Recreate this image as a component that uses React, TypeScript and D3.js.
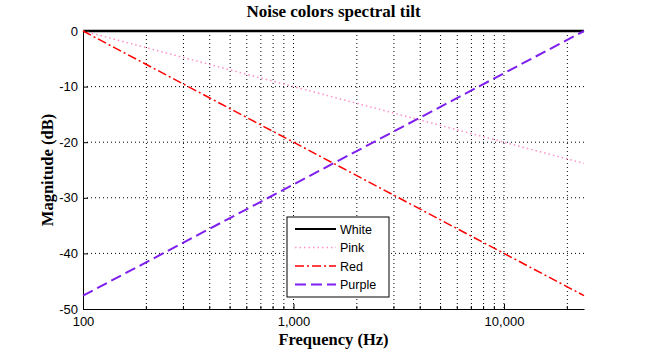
import React, { useEffect, useRef } from 'react';
import * as d3 from 'd3';

// frequency points (Hz)
const freqs = [100, 1000, 10000, 24000];
const white = [0, 0, 0, 0];
const pink = [0, -10, -20, -23.8];
const red = [0, -20, -40, -47.6];
const purple = [-47.6, -27.6, -7.6, 0];

const yTicks = [0, -10, -20, -30, -40, -50];
const xMajor = [100, 1000, 10000];
const xMinor = [200, 300, 400, 500, 600, 700, 800, 900,
  2000, 3000, 4000, 5000, 6000, 7000, 8000, 9000, 20000];

const seriesNames = ['White', 'Pink', 'Red', 'Purple'];

export default function App() {
  const svgRef = useRef<SVGSVGElement>(null);

  useEffect(() => {
    const W = 645, H = 351;
    const margin = { top: 31, right: 61, bottom: 42, left: 83 };
    const width = W - margin.left - margin.right;
    const height = H - margin.top - margin.bottom;

    const svg = d3.select(svgRef.current);
    svg.selectAll('*').remove();
    svg.attr('width', W).attr('height', H);

    const x = d3.scaleLog().domain([100, 24000]).range([0, width]);
    const y = d3.scaleLinear().domain([-50, 0]).range([height, 0]);

    const g = svg.append('g').attr('transform', `translate(${margin.left},${margin.top})`);

    // grid
    g.selectAll('.vgrid')
      .data([...xMajor.slice(1), ...xMinor])
      .join('line')
      .attr('x1', d => x(d)).attr('x2', d => x(d))
      .attr('y1', 0).attr('y2', height)
      .attr('stroke', '#000').attr('stroke-width', 1)
      .attr('stroke-dasharray', '1,3');
    g.selectAll('.hgrid')
      .data(yTicks.slice(1, -1))
      .join('line')
      .attr('x1', 0).attr('x2', width)
      .attr('y1', d => y(d)).attr('y2', d => y(d))
      .attr('stroke', '#000').attr('stroke-width', 1)
      .attr('stroke-dasharray', '1,3');

    // axes
    const xAxis = d3.axisBottom(x).tickValues(xMajor).tickSizeInner(-5).tickSizeOuter(0)
      .tickFormat(d => d3.format(',')(d as number));
    const xa = g.append('g').attr('transform', `translate(0,${height})`).call(xAxis);
    xa.selectAll('text').attr('dy', '1.1em');
    g.append('g').attr('transform', `translate(0,${height})`)
      .selectAll('line').data(xMinor).join('line')
      .attr('x1', d => x(d)).attr('x2', d => x(d))
      .attr('y1', 0).attr('y2', -3).attr('stroke', '#000');

    const yAxis = d3.axisLeft(y).tickValues(yTicks).tickSizeInner(-5).tickSizeOuter(0)
      .tickFormat(d => String(d));
    const ya = g.append('g').call(yAxis);
    ya.selectAll('text').attr('x', -5);

    [xa, ya].forEach(a => {
      a.select('.domain').attr('stroke', '#000');
      a.selectAll('text').attr('font-family', 'Liberation Sans, Arial, sans-serif')
        .attr('font-size', 13).attr('fill', '#000');
    });

    // lines
    const line = (vals: number[]) =>
      d3.line<number>().x((_, i) => x(freqs[i])).y(d => y(d))(vals);

    const styles = [
      { vals: white, color: '#000', w: 2.5, dash: null },
      { vals: pink, color: '#ff8fc8', w: 1.5, dash: '1.5,3' },
      { vals: red, color: '#ff0000', w: 1.5, dash: '9,3,2,3' },
      { vals: purple, color: '#7f1fef', w: 2, dash: '11,5' },
    ];
    styles.forEach(s => {
      g.append('path').attr('d', line(s.vals))
        .attr('fill', 'none').attr('stroke', s.color)
        .attr('stroke-width', s.w)
        .attr('stroke-dasharray', s.dash);
    });

    // legend
    const lg = svg.append('g').attr('transform', 'translate(287,217)');
    lg.append('rect').attr('width', 102).attr('height', 80)
      .attr('fill', '#fff').attr('stroke', '#000');
    seriesNames.forEach((name, i) => {
      const s = styles[i];
      const yy = 12 + i * 18.5;
      lg.append('line').attr('x1', 8).attr('x2', 49).attr('y1', yy).attr('y2', yy)
        .attr('stroke', s.color).attr('stroke-width', Math.min(s.w, 2))
        .attr('stroke-dasharray', s.dash);
      lg.append('text').attr('x', 53).attr('y', yy + 4.5)
        .attr('font-family', 'Liberation Sans, Arial, sans-serif')
        .attr('font-size', 12.5).text(name);
    });

    // titles
    const serif = 'Liberation Serif, Times New Roman, serif';
    svg.append('text').attr('x', margin.left + width / 2).attr('y', 17)
      .attr('text-anchor', 'middle')
      .attr('font-family', serif)
      .attr('font-weight', 'bold').attr('font-size', 17)
      .text('Noise colors spectral tilt');
    svg.append('text').attr('x', margin.left + width / 2).attr('y', 345)
      .attr('text-anchor', 'middle')
      .attr('font-family', serif)
      .attr('font-weight', 'bold').attr('font-size', 16.5)
      .text('Frequency (Hz)');
    svg.append('text')
      .attr('transform', `translate(53,${margin.top + height / 2}) rotate(-90)`)
      .attr('text-anchor', 'middle')
      .attr('font-family', serif)
      .attr('font-weight', 'bold').attr('font-size', 16.5)
      .text('Magnitude (dB)');
  }, []);

  return (
    <svg ref={svgRef} style={{ position: 'absolute', left: 0, top: 0, background: '#fff' }}></svg>
  );
}
